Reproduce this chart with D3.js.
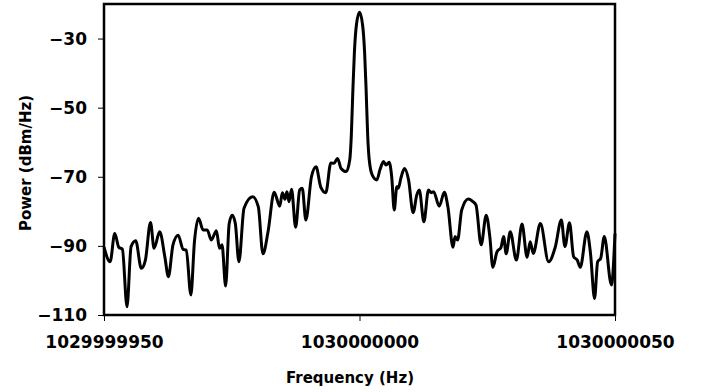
<!DOCTYPE html>
<html>
<head>
<meta charset="utf-8">
<script src="https://cdn.jsdelivr.net/npm/d3@7"></script>
<style>
  body { margin: 0; background: #fff; }
  text { font-family: "DejaVu Sans", Arial, sans-serif; font-weight: bold; fill: #000; }
</style>
</head>
<body>
<figure id="chart" style="margin:0"></figure>
<script>
// centre frequency, offsets in Hz from it
const centerFreq = 1030000000;
const freqOffset = [
  -50, -48.8, -47.9, -47.1, -46.4, -45.5, -44.7, -43.8, -42.7, -41.9,
  -40.9, -40.2, -39.1, -38.1, -37.4, -36.5, -35.5, -34.5, -33.9, -33.0,
  -32.3, -31.5, -30.6, -29.8, -29.0, -28.0, -27.4, -26.9, -26.2, -25.5,
  -24.9, -24.3, -23.6, -22.6, -20.9, -19.8, -18.9, -17.9, -16.7, -15.6,
  -15.1, -14.6, -14.2, -13.8, -13.3, -12.5, -11.7, -11.2, -10.5, -9.4,
  -8.5, -7.6, -6.6, -5.6, -5.0, -4.3, -3.6, -2.6, -1.9, -1.6,
  -1.3, -1.0, -0.6, 0, 0.6, 1.0, 1.3, 1.6, 1.9, 2.5,
  3.4, 4.0, 4.7, 5.2, 5.8, 6.3, 6.8, 7.3, 7.6, 8.1,
  8.8, 9.6, 10.5, 11.2, 11.7, 12.6, 13.5, 14.0, 14.5, 15.6,
  16.6, 17.3, 18.3, 18.7, 19.2, 20.0, 21.3, 22.2, 22.8, 23.8,
  24.8, 25.5, 26.1, 26.9, 27.7, 28.2, 28.7, 29.5, 30.7, 31.8,
  32.8, 33.4, 34.0, 35.4, 37.0, 38.3, 39.5, 40.2, 41.1, 41.9,
  42.6, 43.2, 44.5, 45.2, 46.0, 46.6, 47.2, 47.9, 49.3, 50
];
const powerDbm = [
  -90.4, -94.6, -86.4, -90.4, -91.0, -107.6, -90.2, -88.5, -96.5, -94.1,
  -83.2, -90.7, -85.9, -93.1, -98.9, -89.7, -86.9, -91.0, -91.2, -104.2,
  -88.8, -82.0, -85.4, -85.4, -88.3, -85.6, -90.7, -89.7, -101.6, -83.5,
  -81.1, -83.5, -94.6, -79.1, -75.8, -78.7, -92.3, -85.9, -74.5, -78.5,
  -74.6, -76.5, -74.3, -77.2, -73.6, -84.6, -73.8, -73.3, -82.5, -70.0,
  -67.1, -72.9, -74.6, -66.0, -66.1, -64.7, -67.6, -68.5, -65.0, -58.0,
  -45.0, -34.0, -26.0, -22.4, -26.0, -34.0, -45.0, -58.0, -65.0, -69.5,
  -70.9, -68.0, -65.6, -66.6, -65.8, -70.0, -79.6, -72.9, -73.3, -70.4,
  -67.6, -70.9, -80.4, -75.3, -73.8, -83.0, -73.8, -74.6, -74.3, -78.5,
  -74.5, -78.7, -90.4, -87.3, -88.3, -79.6, -76.4, -77.2, -78.2, -89.7,
  -81.1, -87.3, -96.2, -91.7, -90.4, -87.3, -92.3, -85.9, -94.1, -83.7,
  -93.3, -88.8, -92.2, -83.5, -94.6, -90.4, -82.5, -90.2, -83.3, -93.1,
  -94.1, -96.2, -85.9, -92.1, -105.2, -94.6, -93.6, -87.3, -101.3, -86.4
];
const xTicks = [-50, 0, 50];
const xTickLabels = ["1029999950", "1030000000", "1030000050"];
const yTicks = [-110, -90, -70, -50, -30];

const W = 706, H = 392;
const margin = { top: 4, right: 91, bottom: 77, left: 104 };
const width = W - margin.left - margin.right;
const height = H - margin.top - margin.bottom;

const svg = d3.select("figure#chart")
  .append("svg")
  .attr("width", W)
  .attr("height", H);

const g = svg.append("g")
  .attr("transform", `translate(${margin.left},${margin.top})`);

const x = d3.scaleLinear().domain([-50, 50]).range([0, width]);
const y = d3.scaleLinear().domain([-110, -20]).range([height, 0]);

// y axis
const yAxis = g.append("g")
  .call(d3.axisLeft(y).tickValues(yTicks).tickSize(6).tickPadding(11));
yAxis.select(".domain").remove();
yAxis.selectAll("text").style("font-size", "17px");

// x axis
const xAxis = g.append("g")
  .attr("transform", `translate(0,${height})`)
  .call(d3.axisBottom(x).tickValues(xTicks).tickSize(6).tickPadding(15)
    .tickFormat((d, i) => xTickLabels[i]));
xAxis.select(".domain").remove();
xAxis.selectAll("text").style("font-size", "17px");

// the line
const data = freqOffset.map((f, i) => ({ f: f, v: powerDbm[i] }));
const line = d3.line()
  .x(d => x(d.f))
  .y(d => y(d.v))
  .curve(d3.curveMonotoneX);

g.append("path")
  .datum(data)
  .attr("fill", "none")
  .attr("stroke", "#000")
  .attr("stroke-width", 3)
  .attr("stroke-linejoin", "round")
  .attr("d", line);

// plot frame
g.append("rect")
  .attr("x", 0).attr("y", 0)
  .attr("width", width).attr("height", height)
  .attr("fill", "none")
  .attr("stroke", "#000")
  .attr("stroke-width", 2.5);

// axis titles
svg.append("text")
  .attr("x", 350).attr("y", 383)
  .attr("text-anchor", "middle")
  .style("font-size", "15px")
  .text("Frequency (Hz)");

svg.append("text")
  .attr("transform", "translate(31,163) rotate(-90)")
  .attr("text-anchor", "middle")
  .style("font-size", "15px")
  .text("Power (dBm/Hz)");
</script>
</body>
</html>
